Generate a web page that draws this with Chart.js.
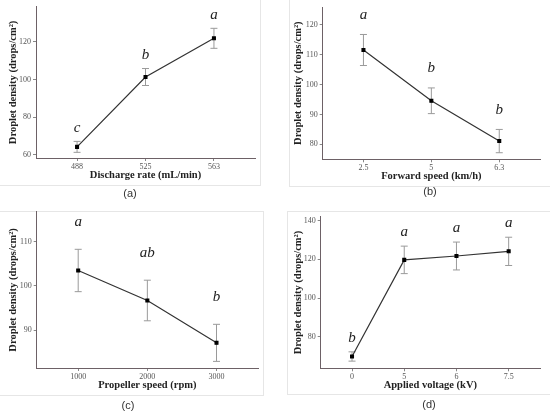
<!DOCTYPE html>
<html>
<head>
<meta charset="utf-8">
<script src="https://cdn.jsdelivr.net/npm/chart.js@4/dist/chart.umd.min.js"></script>
<style>
  body{margin:0;background:#fff;width:550px;height:411px;position:relative;overflow:hidden;}
  canvas{position:absolute;}
  .frame{position:absolute;border:1px solid #e6e6e6;}
  .lab{position:absolute;font:11px "Liberation Sans",Arial,sans-serif;color:#333;transform:translate(-50%,-50%);}
</style>
</head>
<body>
<div class="frame" style="left:-2px;top:-2px;width:261px;height:186px"></div>
<div class="frame" style="left:289px;top:-2px;width:270px;height:187px"></div>
<div class="frame" style="left:-2px;top:211px;width:264px;height:183px"></div>
<div class="frame" style="left:287px;top:211px;width:270px;height:182px"></div>

<canvas id="ca" width="262" height="190" style="left:0;top:0"></canvas>
<canvas id="cb" width="265" height="190" style="left:285px;top:0"></canvas>
<canvas id="cc" width="265" height="195" style="left:0;top:205px"></canvas>
<canvas id="cd" width="265" height="195" style="left:285px;top:205px"></canvas>

<div class="lab" style="left:130px;top:193px">(a)</div>
<div class="lab" style="left:430px;top:191px">(b)</div>
<div class="lab" style="left:128px;top:405px">(c)</div>
<div class="lab" style="left:429px;top:404px">(d)</div>

<script>
// (a) discharge rate
var catsA = ['488', '525', '563'];
var meanA = [64.3, 101.3, 121.8];
var errA = [2.9, 4.5, 5.3];
var letA = ['c', 'b', 'a'];
var ticksA = [60, 80, 100, 120];

// (b) forward speed
var catsB = ['2.5', '5', '6.3'];
var meanB = [111.6, 94.6, 81.1];
var errB = [5.2, 4.3, 3.9];
var letB = ['a', 'b', 'b'];
var ticksB = [80, 90, 100, 110, 120];

// (c) propeller speed
var catsC = ['1000', '2000', '3000'];
var meanC = [103.5, 96.7, 87.1];
var errC = [4.8, 4.6, 4.2];
var letC = ['a', 'ab', 'b'];
var ticksC = [90, 100, 110];

// (d) applied voltage
var catsD = ['0', '5', '6', '7.5'];
var meanD = [69.8, 119.7, 121.7, 124.1];
var errD = [2.4, 7.1, 7.2, 7.3];
var letD = ['b', 'a', 'a', 'a'];
var ticksD = [80, 100, 120, 140];

var serif = '"Liberation Serif","Times New Roman",serif';

var errLetters = {
  id: 'errLetters',
  beforeDatasetsDraw: function(chart) {
    var o = chart.options.plugins.errLetters;
    var x = chart.scales.x, y = chart.scales.y, c = chart.ctx;
    c.save();
    c.strokeStyle = '#9a9a9a';
    c.lineWidth = 1;
    o.mean.forEach(function(m, i) {
      var px = x.getPixelForValue(i + 1);
      var top = y.getPixelForValue(m + o.err[i]);
      var bot = y.getPixelForValue(m - o.err[i]);
      c.beginPath();
      c.moveTo(px, top); c.lineTo(px, bot);
      c.moveTo(px - 3.5, top); c.lineTo(px + 3.5, top);
      c.moveTo(px - 3.5, bot); c.lineTo(px + 3.5, bot);
      c.stroke();
    });
    c.restore();
  },
  afterDatasetsDraw: function(chart) {
    var o = chart.options.plugins.errLetters;
    var x = chart.scales.x, y = chart.scales.y, c = chart.ctx;
    c.save();
    c.fillStyle = '#222';
    c.font = 'italic 15px ' + serif;
    c.textAlign = 'center';
    c.textBaseline = 'middle';
    o.letters.forEach(function(l, i) {
      c.fillText(l, x.getPixelForValue(i + 1), y.getPixelForValue(o.mean[i] + o.err[i] + o.gap));
    });
    c.restore();
  }
};

function panel(id, cats, mean, err, letters, yTicks, ymin, ymax, xTitle, lay) {
  new Chart(document.getElementById(id), {
    type: 'line',
    data: {
      datasets: [{
        data: mean.map(function(v, i) { return {x: i + 1, y: v}; }),
        borderColor: '#333',
        borderWidth: 1.2,
        pointStyle: 'rect',
        pointRadius: 2,
        pointBackgroundColor: '#000',
        pointBorderColor: '#000',
        tension: 0
      }]
    },
    options: {
      responsive: false,
      animation: false,
      layout: {padding: {top: lay.top, right: lay.right, left: 0, bottom: lay.bottom}},
      plugins: {
        legend: {display: false},
        tooltip: {enabled: false},
        errLetters: {mean: mean, err: err, letters: letters, gap: lay.gap}
      },
      scales: {
        x: {
          type: 'linear',
          min: 0.4,
          max: cats.length + 0.6,
          afterBuildTicks: function(s) { s.ticks = cats.map(function(c, i) { return {value: i + 1}; }); },
          afterFit: function(s) { s.height = lay.xh; },
          ticks: {
            callback: function(v) { return cats[v - 1]; },
            font: {family: serif, size: 8},
            color: '#555',
            padding: 1,
            maxRotation: 0,
            autoSkip: false
          },
          grid: {drawOnChartArea: false, drawTicks: true, tickLength: 3, color: '#888'},
          border: {display: true, color: '#6d6166', width: 1},
          title: {display: true, text: xTitle, font: {family: serif, size: 10.5, weight: 'bold'}, color: '#222', padding: {top: 1, bottom: 0}}
        },
        y: {
          min: ymin,
          max: ymax,
          afterBuildTicks: function(s) { s.ticks = yTicks.map(function(v) { return {value: v}; }); },
          afterFit: function(s) { s.width = lay.yw; },
          ticks: {font: {family: serif, size: 8}, color: '#555', padding: 2},
          grid: {drawOnChartArea: false, drawTicks: true, tickLength: 3, color: '#888'},
          border: {display: true, color: '#6d6166', width: 1},
          title: {display: true, text: 'Droplet density (drops/cm²)', font: {family: serif, size: 10.5, weight: 'bold'}, color: '#222', padding: {top: 7, bottom: 0}}
        }
      }
    },
    plugins: [errLetters]
  });
}

panel('ca', catsA, meanA, errA, letA, ticksA, 58.4, 138.5, 'Discharge rate (mL/min)', {top: 5, right: 7, bottom: 8.5, yw: 36, xh: 23.5, gap: 7});
panel('cb', catsB, meanB, errB, letB, ticksB, 75, 126, 'Forward speed (km/h)', {top: 7, right: 10, bottom: 7.7, yw: 37.7, xh: 23, gap: 6.5});
panel('cc', catsC, meanC, errC, letC, ticksC, 81.4, 116.8, 'Propeller speed (rpm)', {top: 6.7, right: 7, bottom: 8.5, yw: 36.7, xh: 23.5, gap: 6.2});
panel('cd', catsD, meanD, errD, letD, ticksD, 63.7, 142, 'Applied voltage (kV)', {top: 11.7, right: 10, bottom: 8.7, yw: 35.7, xh: 23, gap: 7.2});
</script>
</body>
</html>
